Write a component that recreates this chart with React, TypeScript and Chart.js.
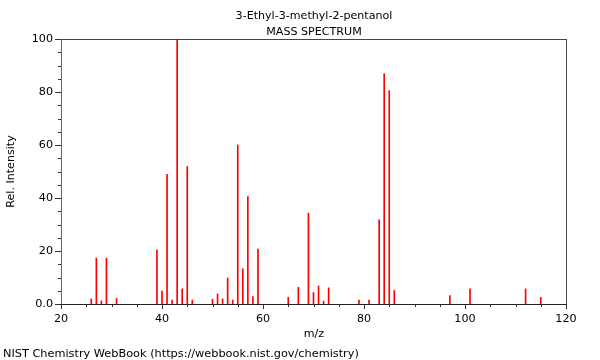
import React, { useEffect, useRef } from 'react';
import { Chart, registerables } from 'chart.js';

Chart.register(...registerables);

const compoundName = '3-Ethyl-3-methyl-2-pentanol';
const chartSubtitle = 'MASS SPECTRUM';
const xAxisTitle = 'm/z';
const yAxisTitle = 'Rel. Intensity';
const footerText = 'NIST Chemistry WebBook (https://webbook.nist.gov/chemistry)';

const mzValues = [
  26, 27, 28, 29, 31, 39, 40, 41, 42, 43, 44, 45, 46, 50, 51, 52, 53, 54, 55, 56, 57, 58, 59,
  65, 67, 69, 70, 71, 72, 73, 79, 81, 83, 84, 85, 86, 97, 101, 112, 115,
];
const intensities = [
  1.9, 17.3, 1.2, 17.3, 2.1, 20.4, 4.9, 48.9, 1.5, 100, 5.7, 51.9, 1.5, 1.8, 3.8, 1.9, 9.8, 1.5, 60.0, 13.3, 40.5, 2.8, 20.7,
  2.5, 6.3, 34.3, 4.3, 6.8, 1.1, 6.1, 1.5, 1.5, 31.8, 86.9, 80.5, 5.1, 3.2, 5.7, 5.7, 2.5,
];

const xMajorTicks = [20, 40, 60, 80, 100, 120];
const xTickLabels = ['20', '40', '60', '80', '100', '120'];
const yMajorTicks = [0, 20, 40, 60, 80, 100];
const yTickLabels = ['0.0', '20', '40', '60', '80', '100'];
const minorStep = 5;

const FONT = '"DejaVu Sans", "Liberation Sans", sans-serif';

const decorPlugin = {
  id: 'nistDecor',
  afterDraw(chart: any) {
    const ctx = chart.ctx as CanvasRenderingContext2D;
    const { left, right, top, bottom } = chart.chartArea;
    const xs = chart.scales.x;
    const ys = chart.scales.y;
    ctx.save();
    ctx.lineWidth = 1;

    ctx.strokeStyle = '#333';
    for (let v = xs.min; v <= xs.max + 1e-9; v += minorStep) {
      const px = Math.round(xs.getPixelForValue(v)) + 0.5;
      const len = xMajorTicks.includes(v) ? 5 : 3;
      ctx.beginPath();
      ctx.moveTo(px, bottom);
      ctx.lineTo(px, bottom + len);
      ctx.stroke();
    }
    for (let v = ys.min; v <= ys.max + 1e-9; v += minorStep) {
      const py = Math.round(ys.getPixelForValue(v)) + 0.5;
      const len = yMajorTicks.includes(v) ? 6 : 3;
      ctx.beginPath();
      ctx.moveTo(left, py);
      ctx.lineTo(left - len, py);
      ctx.stroke();
    }

    ctx.strokeStyle = '#444';
    ctx.beginPath();
    ctx.moveTo(left - 0.5, top + 0.5);
    ctx.lineTo(right + 0.5, top + 0.5);
    ctx.moveTo(right + 0.5, top);
    ctx.lineTo(right + 0.5, bottom + 1);
    ctx.stroke();
    ctx.strokeStyle = '#666';
    ctx.beginPath();
    ctx.moveTo(left + 0.5, top);
    ctx.lineTo(left + 0.5, bottom + 1);
    ctx.stroke();
    ctx.strokeStyle = '#222';
    ctx.beginPath();
    ctx.moveTo(left, bottom + 0.5);
    ctx.lineTo(right + 1, bottom + 0.5);
    ctx.stroke();

    ctx.fillStyle = '#000';
    ctx.font = `11.1px ${FONT}`;
    ctx.textAlign = 'center';
    ctx.textBaseline = 'alphabetic';
    const cx = (left + right) / 2;
    ctx.fillText(compoundName, cx + 0.5, 18.5);
    ctx.fillText(chartSubtitle, cx + 0.5, 35);
    ctx.fillText(xAxisTitle, cx + 0.5, 336.5);

    ctx.font = `11.3px ${FONT}`;
    ctx.textAlign = 'left';
    ctx.fillText(footerText, 3, 356.5);

    ctx.font = `11.1px ${FONT}`;
    ctx.save();
    ctx.translate(13.5, (top + bottom) / 2);
    ctx.rotate(-Math.PI / 2);
    ctx.textAlign = 'center';
    ctx.fillText(yAxisTitle, 0, 0);
    ctx.restore();

    ctx.restore();
  },
};

export default function App() {
  const canvasRef = useRef<HTMLCanvasElement | null>(null);

  useEffect(() => {
    const canvas = canvasRef.current;
    if (!canvas) return;
    const chart = new Chart(canvas, {
      type: 'bar',
      data: {
        datasets: [
          {
            data: mzValues.map((x, i) => ({ x, y: intensities[i] })),
            backgroundColor: '#ff0000',
            borderWidth: 0,
            barThickness: 1,
          } as any,
        ],
      },
      options: {
        responsive: false,
        animation: false,
        devicePixelRatio: 1,
        layout: { padding: { left: 0, top: 39, right: 34, bottom: 0 } },
        plugins: {
          legend: { display: false },
          title: { display: false },
          tooltip: { enabled: false },
        },
        scales: {
          x: {
            type: 'linear',
            min: 20,
            max: 120,
            offset: false,
            grid: { display: false, drawTicks: false, offset: false },
            border: { display: false },
            afterBuildTicks: (scale: any) => {
              scale.ticks = xMajorTicks.map((v) => ({ value: v }));
            },
            afterFit: (scale: any) => {
              scale.height = 56;
            },
            ticks: {
              autoSkip: false,
              maxRotation: 0,
              padding: 8,
              color: '#000',
              font: { family: FONT, size: 11.2 },
              callback: (v: any) => {
                const i = xMajorTicks.indexOf(Number(v));
                return i >= 0 ? xTickLabels[i] : '';
              },
            },
          },
          y: {
            type: 'linear',
            min: 0,
            max: 100,
            grid: { display: false, drawTicks: false },
            border: { display: false },
            afterBuildTicks: (scale: any) => {
              scale.ticks = yMajorTicks.map((v) => ({ value: v }));
            },
            afterFit: (scale: any) => {
              scale.width = 61;
            },
            ticks: {
              autoSkip: false,
              padding: 8,
              color: '#000',
              font: { family: FONT, size: 11.2 },
              callback: (v: any) => {
                const i = yMajorTicks.indexOf(Number(v));
                return i >= 0 ? yTickLabels[i] : '';
              },
            },
          },
        },
      } as any,
      plugins: [decorPlugin],
    });
    return () => chart.destroy();
  }, []);

  return (
    <div style={{ position: 'fixed', left: 0, top: 0, width: 600, height: 360, background: '#fff' }}>
      <canvas ref={canvasRef} width={600} height={360} style={{ width: 600, height: 360, display: 'block' }} />
    </div>
  );
}
